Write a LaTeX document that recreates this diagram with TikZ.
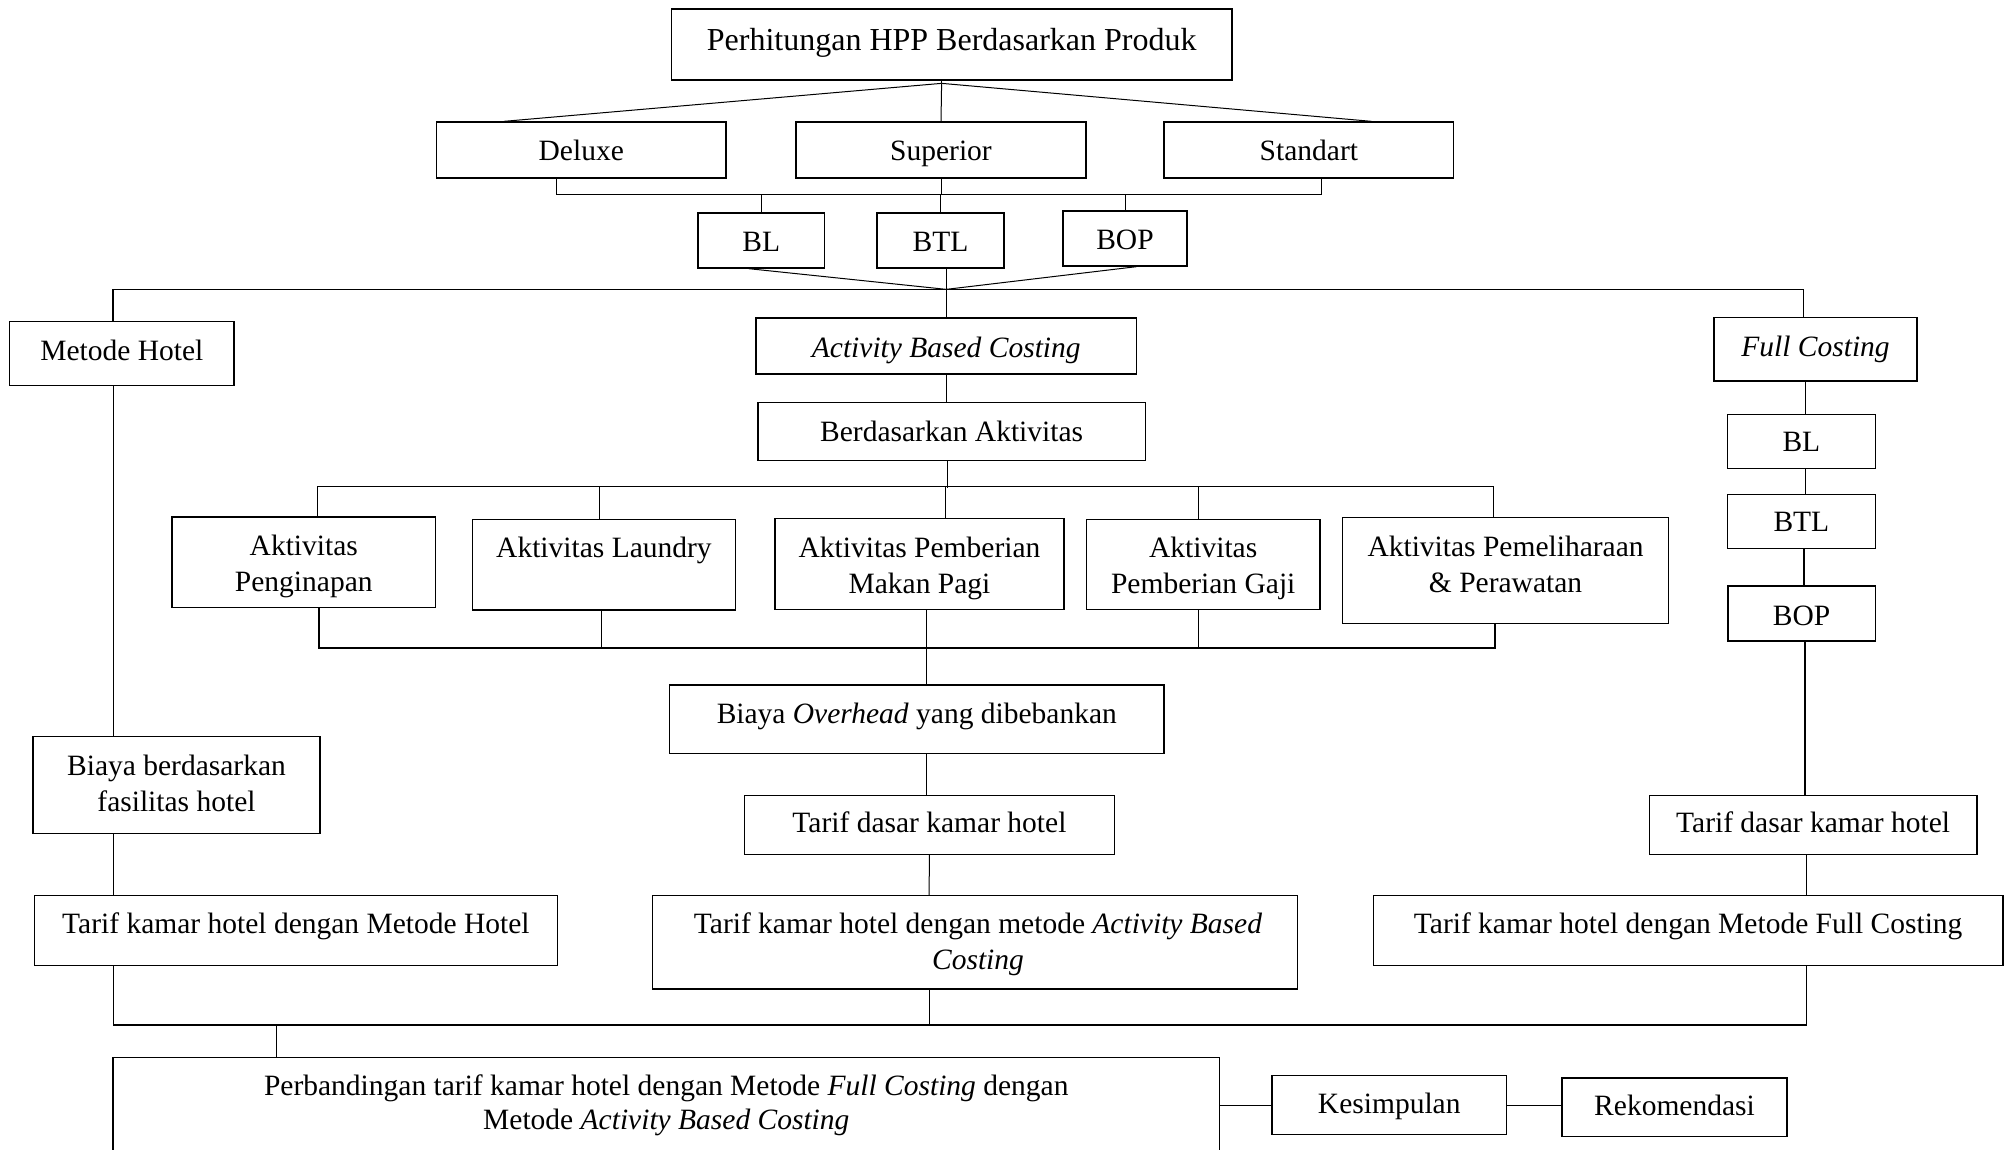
\documentclass[tikz,border=0pt]{standalone}
\usepackage{fontspec}
\setmainfont{Liberation Serif}
\begin{document}
\begin{tikzpicture}[x=1pt,y=-1pt,
  box/.style={draw,line width=1.3pt,inner sep=0pt},
  txt/.style={anchor=base,align=center,inner sep=0pt,font=\fontsize{29.5}{36}\selectfont},
  con/.style={line width=1pt},
  bus/.style={line width=1.3pt},
  heavy/.style={line width=1.8pt}]
\fill[white] (0,0) rectangle (2004,1149);
\clip (0,0) rectangle (2004,1149);

% boxes
\node[box,minimum width=560.5pt,minimum height=71pt] (top) at (951.75,44.5) {};
\node[txt,font=\fontsize{32}{38}\selectfont] (top-t) at (951.75,50.5) {Perhitungan HPP Berdasarkan Produk};

\node[box,minimum width=289.5pt,minimum height=56pt] (deluxe) at (581.25,150) {};
\node[txt] (deluxe-t) at (581.25,160) {Deluxe};
\node[box,minimum width=290pt,minimum height=56pt] (superior) at (941,150) {};
\node[txt] (superior-t) at (941,160) {Superior};
\node[box,minimum width=289.7pt,minimum height=56pt] (standart) at (1308.85,150) {};
\node[txt] (standart-t) at (1308.85,160) {Standart};

\node[box,minimum width=126.4pt,minimum height=55pt] (bl1) at (761.2,240.5) {};
\node[txt] (bl1-t) at (761.2,251.7) {BL};
\node[box,minimum width=127pt,minimum height=55pt] (btl1) at (940.5,240.5) {};
\node[txt] (btl1-t) at (940.5,251.7) {BTL};
\node[box,minimum width=124pt,minimum height=55pt] (bop1) at (1125,238.5) {};
\node[txt] (bop1-t) at (1125,249.3) {BOP};

\node[box,minimum width=224.4pt,minimum height=63.6pt] (metode) at (121.8,353.5) {};
\node[txt] (metode-t) at (121.8,360) {Metode Hotel};
\node[box,minimum width=380.5pt,minimum height=56pt] (abc) at (946.25,346) {};
\node[txt] (abc-t) at (946.25,357.3) {\textit{Activity Based Costing}};
\node[box,minimum width=203pt,minimum height=63.3pt] (fc) at (1815.5,349.35) {};
\node[txt] (fc-t) at (1815.5,356) {\textit{Full Costing}};

\node[box,minimum width=387.3pt,minimum height=58pt] (berd) at (951.65,431.7) {};
\node[txt] (berd-t) at (951.65,441) {Berdasarkan Aktivitas};

\node[box,minimum width=147.9pt,minimum height=54.4pt] (fcbl) at (1801.35,441.5) {};
\node[txt] (fcbl-t) at (1801.35,451.7) {BL};
\node[box,minimum width=147.9pt,minimum height=54.4pt] (fcbtl) at (1801.35,521.5) {};
\node[txt] (fcbtl-t) at (1801.35,531.7) {BTL};
\node[box,minimum width=147.3pt,minimum height=55pt] (fcbop) at (1801.65,613.5) {};
\node[txt] (fcbop-t) at (1801.65,625) {BOP};

\node[box,minimum width=263.6pt,minimum height=90.3pt] (akt1) at (303.8,562.15) {};
\node[txt] (akt1-t) at (303.8,591) {Aktivitas\\Penginapan};
\node[box,minimum width=262.7pt,minimum height=90.7pt] (akt2) at (603.95,564.65) {};
\node[txt] (akt2-t) at (603.95,557.7) {Aktivitas Laundry};
\node[box,minimum width=289pt,minimum height=90.6pt] (akt3) at (919.5,564) {};
\node[txt] (akt3-t) at (919.5,593) {Aktivitas Pemberian\\Makan Pagi};
\node[box,minimum width=233.6pt,minimum height=90pt] (akt4) at (1203.2,564.3) {};
\node[txt] (akt4-t) at (1203.2,593) {Aktivitas\\Pemberian Gaji};
\node[box,minimum width=325.9pt,minimum height=106pt] (akt5) at (1505.55,570.3) {};
\node[txt] (akt5-t) at (1505.55,592) {Aktivitas Pemeliharaan\\\& Perawatan};

\node[box,minimum width=494.4pt,minimum height=68.3pt] (overhead) at (916.8,719.15) {};
\node[txt] (overhead-t) at (916.8,723.3) {Biaya \textit{Overhead} yang dibebankan};

\node[box,minimum width=287pt,minimum height=97pt] (fasil) at (176.5,785.2) {};
\node[txt] (fasil-t) at (176.5,811) {Biaya berdasarkan\\fasilitas hotel};

\node[box,minimum width=370.3pt,minimum height=58.6pt] (tdabc) at (929.45,825) {};
\node[txt] (tdabc-t) at (929.45,832.7) {Tarif dasar kamar hotel};
\node[box,minimum width=327.7pt,minimum height=58.6pt] (tdfc) at (1813.15,825) {};
\node[txt] (tdfc-t) at (1813.15,832.7) {Tarif dasar kamar hotel};

\node[box,minimum width=523pt,minimum height=70pt] (tkhotel) at (295.9,930.7) {};
\node[txt] (tkhotel-t) at (295.9,933.3) {Tarif kamar hotel dengan Metode Hotel};
\node[box,minimum width=645.3pt,minimum height=93.3pt] (tkabc) at (975.05,942.35) {};
\node[txt] (tkabc-t) at (978,969.5) {Tarif kamar hotel dengan metode \textit{Activity Based}\\\textit{Costing}};
\node[box,minimum width=629.7pt,minimum height=70pt] (tkfc) at (1688.15,930.7) {};
\node[txt] (tkfc-t) at (1688.15,933.3) {Tarif kamar hotel dengan Metode Full Costing};

\node[box,minimum width=1106.6pt,minimum height=107.7pt] (perb) at (666.3,1111.15) {};
\node[txt,font=\fontsize{29.5}{34.5}\selectfont] (perb-t) at (666.3,1129.5) {Perbandingan tarif kamar hotel dengan Metode \textit{Full Costing} dengan\\Metode \textit{Activity Based Costing}};
\node[box,minimum width=234.5pt,minimum height=58.6pt] (kes) at (1389.25,1105) {};
\node[txt] (kes-t) at (1389.25,1113.3) {Kesimpulan};
\node[box,minimum width=225pt,minimum height=58.7pt] (rek) at (1674.5,1107.35) {};
\node[txt] (rek-t) at (1674.5,1115) {Rekomendasi};

% connectors: top fan
\coordinate (apex) at ([xshift=-10.15pt,yshift=-2.7pt]top.south);
\draw[con] ([xshift=-10.15pt]top.south) -- (apex);
\draw[con] (apex) -- ([xshift=-77.45pt]deluxe.north);
\draw[con] (apex) -- (superior.north);
\draw[con] (apex) -- ([xshift=62.75pt]standart.north);

% bracket to BL BTL BOP
\draw[bus] ([xshift=-24.85pt]deluxe.south) -- ++(0,16) -| ([xshift=12.95pt]standart.south);
\coordinate (bus1) at ([yshift=-16pt]superior.south);
\draw[con] (superior.south) -- (bus1);
\draw[con] (bl1.north) -- (bl1.north |- bus1);
\draw[con] (btl1.north) -- (btl1.north |- bus1);
\draw[con] (bop1.north) -- (bop1.north |- bus1);

% junction
\coordinate (J) at ([yshift=28pt]abc.north);
\draw[con] ([xshift=-12.6pt]bl1.south) -- (J);
\draw[con] ([xshift=11.6pt]bop1.south) -- (J);
\draw[con] (btl1.south -| J) -- (J);
\draw[con] (J) -- (abc.north);
\draw[bus] ([xshift=-8.8pt]metode.north) |- (J) -| ([xshift=-11.9pt]fc.north);

% left column
\draw[con] ([xshift=-8.3pt]metode.south) -- ([xshift=-63pt]fasil.north);
\draw[con] ([xshift=-63pt]fasil.south) -- ([xshift=-182.4pt]tkhotel.north);

% ABC column
\draw[con] (abc.south) -- (abc.south |- berd.north);
\draw[con] ([xshift=-4.65pt]berd.south) -- ++(0,26.6);
\draw[bus] ([xshift=13.8pt]akt1.north) -- ++(0,-29.7) -| ([xshift=-11.85pt]akt5.north);
\draw[con] ([xshift=-4pt]akt2.north) -- ++(0,-32);
\draw[con] ([xshift=25.5pt]akt3.north) -- ++(0,-31.4);
\draw[con] ([xshift=-4.7pt]akt4.north) -- ++(0,-32);

\draw[bus] ([xshift=15.2pt]akt1.south) -- ++(0,40) -| ([xshift=-10.55pt]akt5.south);
\draw[con] ([xshift=-2.5pt]akt2.south) -- ++(0,37.3);
\draw[con] ([xshift=-4.7pt]akt4.south) -- ++(0,38);
\draw[con] ([xshift=7.2pt]akt3.south) -- ([xshift=9.9pt]overhead.north);
\draw[con] ([xshift=9.9pt]overhead.south) -- ([xshift=-2.75pt]tdabc.north);
\draw[con] (tdabc.south) -- ([xshift=-46pt]tkabc.north);

% FC column
\draw[con] ([xshift=-10pt]fc.south) -- ([xshift=4.15pt]fcbl.north);
\draw[con] ([xshift=4.15pt]fcbl.south) -- ([xshift=4.15pt]fcbtl.north);
\draw[heavy] ([xshift=2.65pt]fcbtl.south) -- ([xshift=2.35pt]fcbop.north);
\draw[heavy] ([xshift=3.35pt]fcbop.south) -- ([xshift=-8.15pt]tdfc.north);
\draw[con] ([xshift=-6.35pt]tdfc.south) -- ([xshift=118.65pt]tkfc.north);

% bottom bus
\draw[bus] ([xshift=-182.4pt]tkhotel.south) -- ++(0,58.6) -| ([xshift=118.65pt]tkfc.south);
\draw[con] ([xshift=-46pt]tkabc.south) -- ++(0,35.3);
\draw[con] ([xshift=-390.3pt]perb.north) -- ++(0,-33);

% conclusion
\draw[con] (perb.east |- kes.west) -- (kes.west);
\draw[con] (kes.east) -- (kes.east -| rek.west);
\end{tikzpicture}
\end{document}
